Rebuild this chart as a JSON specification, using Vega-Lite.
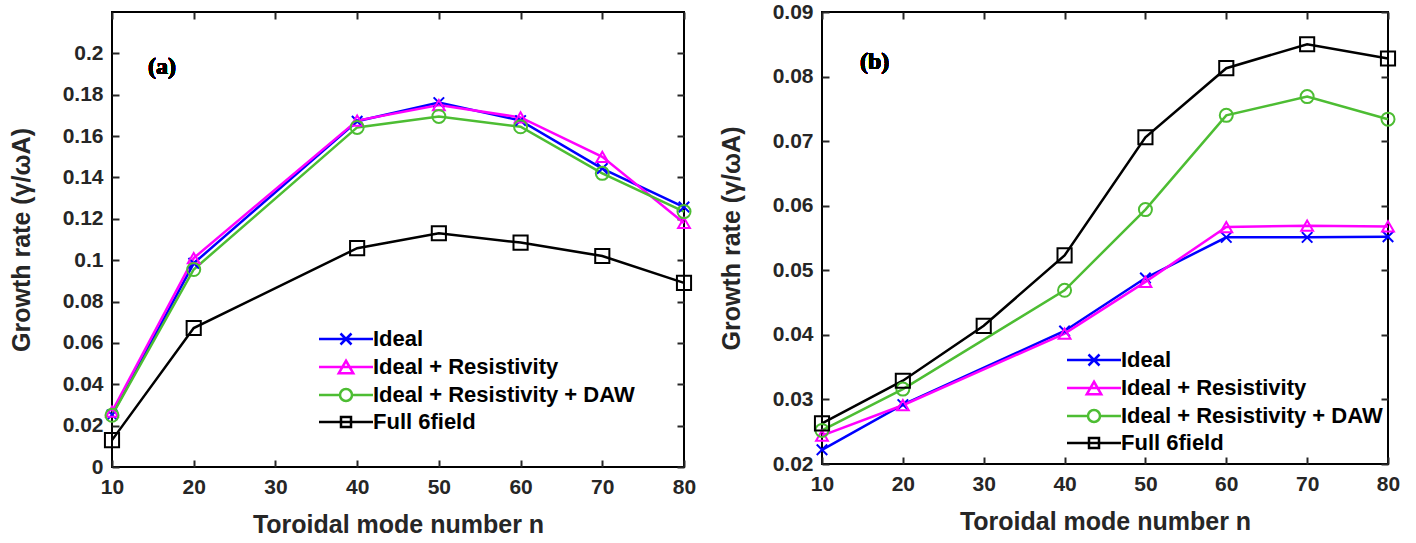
{
  "$schema": "https://vega.github.io/schema/vega-lite/v6.json",
  "padding": {"left": 8, "top": 0, "right": 5, "bottom": 2},
  "background": "white",
  "config": {
    "view": {"stroke": "#000000", "strokeWidth": 2},
    "font": "Liberation Sans",
    "axis": {
      "grid": false,
      "domain": false,
      "labelFlush": false,
      "labelOverlap": false,
      "tickSize": -7,
      "tickWidth": 2,
      "tickColor": "#262626",
      "labelFont": "Liberation Sans",
      "labelFontWeight": "bold",
      "labelFontSize": 21,
      "labelColor": "#262626",
      "labelPadding": 16,
      "titleFont": "Liberation Sans",
      "titleFontWeight": "bold",
      "titleFontSize": 25,
      "titleColor": "#262626"
    },
    "legend": {
      "labelFont": "Liberation Sans",
      "labelFontWeight": "bold",
      "labelFontSize": 22,
      "labelColor": "#000000",
      "labelLimit": 500,
      "symbolSize": 100,
      "symbolStrokeWidth": 2.5,
      "labelOffset": 16,
      "rowPadding": 5,
      "padding": 0
    }
  },
  "datasets": {
    "growth": [
      {"panel": "a", "series": "Ideal", "n": 10, "value": 0.0252},
      {"panel": "a", "series": "Ideal", "n": 20, "value": 0.0985},
      {"panel": "a", "series": "Ideal", "n": 40, "value": 0.1672},
      {"panel": "a", "series": "Ideal", "n": 50, "value": 0.1762},
      {"panel": "a", "series": "Ideal", "n": 60, "value": 0.1675},
      {"panel": "a", "series": "Ideal", "n": 70, "value": 0.1443},
      {"panel": "a", "series": "Ideal", "n": 80, "value": 0.1257},
      {"panel": "a", "series": "Ideal + Resistivity", "n": 10, "value": 0.0268},
      {"panel": "a", "series": "Ideal + Resistivity", "n": 20, "value": 0.1010},
      {"panel": "a", "series": "Ideal + Resistivity", "n": 40, "value": 0.1675},
      {"panel": "a", "series": "Ideal + Resistivity", "n": 50, "value": 0.1750},
      {"panel": "a", "series": "Ideal + Resistivity", "n": 60, "value": 0.1690},
      {"panel": "a", "series": "Ideal + Resistivity", "n": 70, "value": 0.1500},
      {"panel": "a", "series": "Ideal + Resistivity", "n": 80, "value": 0.1180},
      {"panel": "a", "series": "Ideal + Resistivity + DAW", "n": 10, "value": 0.0250},
      {"panel": "a", "series": "Ideal + Resistivity + DAW", "n": 20, "value": 0.0955},
      {"panel": "a", "series": "Ideal + Resistivity + DAW", "n": 40, "value": 0.1642},
      {"panel": "a", "series": "Ideal + Resistivity + DAW", "n": 50, "value": 0.1695},
      {"panel": "a", "series": "Ideal + Resistivity + DAW", "n": 60, "value": 0.1645},
      {"panel": "a", "series": "Ideal + Resistivity + DAW", "n": 70, "value": 0.1420},
      {"panel": "a", "series": "Ideal + Resistivity + DAW", "n": 80, "value": 0.1235},
      {"panel": "a", "series": "Full 6field", "n": 10, "value": 0.0130},
      {"panel": "a", "series": "Full 6field", "n": 20, "value": 0.0672},
      {"panel": "a", "series": "Full 6field", "n": 40, "value": 0.1058},
      {"panel": "a", "series": "Full 6field", "n": 50, "value": 0.1130},
      {"panel": "a", "series": "Full 6field", "n": 60, "value": 0.1085},
      {"panel": "a", "series": "Full 6field", "n": 70, "value": 0.1020},
      {"panel": "a", "series": "Full 6field", "n": 80, "value": 0.0890},
      {"panel": "b", "series": "Ideal", "n": 10, "value": 0.0222},
      {"panel": "b", "series": "Ideal", "n": 20, "value": 0.0292},
      {"panel": "b", "series": "Ideal", "n": 40, "value": 0.0406},
      {"panel": "b", "series": "Ideal", "n": 50, "value": 0.0488},
      {"panel": "b", "series": "Ideal", "n": 60, "value": 0.0551},
      {"panel": "b", "series": "Ideal", "n": 70, "value": 0.0551},
      {"panel": "b", "series": "Ideal", "n": 80, "value": 0.0552},
      {"panel": "b", "series": "Ideal + Resistivity", "n": 10, "value": 0.0244},
      {"panel": "b", "series": "Ideal + Resistivity", "n": 20, "value": 0.0291},
      {"panel": "b", "series": "Ideal + Resistivity", "n": 40, "value": 0.0402},
      {"panel": "b", "series": "Ideal + Resistivity", "n": 50, "value": 0.0482},
      {"panel": "b", "series": "Ideal + Resistivity", "n": 60, "value": 0.0567},
      {"panel": "b", "series": "Ideal + Resistivity", "n": 70, "value": 0.0569},
      {"panel": "b", "series": "Ideal + Resistivity", "n": 80, "value": 0.0568},
      {"panel": "b", "series": "Ideal + Resistivity + DAW", "n": 10, "value": 0.0252},
      {"panel": "b", "series": "Ideal + Resistivity + DAW", "n": 20, "value": 0.0316},
      {"panel": "b", "series": "Ideal + Resistivity + DAW", "n": 40, "value": 0.0469},
      {"panel": "b", "series": "Ideal + Resistivity + DAW", "n": 50, "value": 0.0594},
      {"panel": "b", "series": "Ideal + Resistivity + DAW", "n": 60, "value": 0.0740},
      {"panel": "b", "series": "Ideal + Resistivity + DAW", "n": 70, "value": 0.0769},
      {"panel": "b", "series": "Ideal + Resistivity + DAW", "n": 80, "value": 0.0734},
      {"panel": "b", "series": "Full 6field", "n": 10, "value": 0.0263},
      {"panel": "b", "series": "Full 6field", "n": 20, "value": 0.0329},
      {"panel": "b", "series": "Full 6field", "n": 30, "value": 0.0414},
      {"panel": "b", "series": "Full 6field", "n": 40, "value": 0.0523},
      {"panel": "b", "series": "Full 6field", "n": 50, "value": 0.0706},
      {"panel": "b", "series": "Full 6field", "n": 60, "value": 0.0813},
      {"panel": "b", "series": "Full 6field", "n": 70, "value": 0.0850},
      {"panel": "b", "series": "Full 6field", "n": 80, "value": 0.0828}
    ]
  },
  "resolve": {"legend": {"color": "independent"}},
  "spacing": 21,
  "hconcat": [
    {
      "width": 572,
      "height": 455,
      "data": {"name": "growth"},
      "transform": [{"filter": "datum.panel === 'a'"}],
      "resolve": {"axis": {"x": "independent", "y": "independent"}},
      "layer": [
        {
          "mark": {"type": "line", "strokeWidth": 2.5},
          "encoding": {
            "x": {"field": "n", "type": "quantitative", "scale": {"domain": [10, 80], "nice": false, "zero": false},
                  "axis": {"values": [10, 20, 30, 40, 50, 60, 70, 80], "title": "Toroidal mode number n", "titlePadding": 15}},
            "y": {"field": "value", "type": "quantitative", "scale": {"domain": [0, 0.22], "nice": false},
                  "axis": {"values": [0, 0.02, 0.04, 0.06, 0.08, 0.1, 0.12, 0.14, 0.16, 0.18, 0.2], "format": ".2~f", "title": "Growth rate (γ/ωA)", "titlePadding": 28}},
            "color": {"field": "series", "type": "nominal",
                      "scale": {"domain": ["Ideal", "Ideal + Resistivity", "Ideal + Resistivity + DAW", "Full 6field"], "range": ["#0000FF", "#FF00FF", "#4DBD33", "#000000"]},
                      "legend": {"orient": "none", "legendX": 223, "legendY": 316, "title": null, "symbolType": "stroke",
                                 "encode": {"symbols": {"update": {
                                   "shape": {"signal": "datum.value === 'Ideal' ? 'M-5.4,0L5.4,0M-1.1,-1.1L1.1,1.1M1.1,-1.1L-1.1,1.1' : datum.value === 'Ideal + Resistivity' ? 'M-5.4,0L5.4,0M0,-1.25L1.45,1.25L-1.45,1.25Z' : datum.value === 'Ideal + Resistivity + DAW' ? 'M-5.4,0L-1.2,0M1.2,0L5.4,0M-1.2,0A1.2,1.2,0,1,1,1.2,0A1.2,1.2,0,1,1,-1.2,0' : 'M-5.4,0L5.4,0M-1,-1L1,-1L1,1L-1,1Z'"},
                                   "fill": {"value": "transparent"},
                                   "strokeWidth": {"value": 2.5}}}}}},
            "order": {"field": "n", "type": "quantitative"}
          }
        },
        {
          "mark": {"type": "point", "filled": false, "strokeWidth": 2, "opacity": 1},
          "encoding": {
            "x": {"field": "n", "type": "quantitative", "axis": null},
            "y": {"field": "value", "type": "quantitative", "axis": null},
            "stroke": {"field": "series", "type": "nominal", "legend": null,
                       "scale": {"domain": ["Ideal", "Ideal + Resistivity", "Ideal + Resistivity + DAW", "Full 6field"], "range": ["#0000FF", "#FF00FF", "#4DBD33", "#000000"]}},
            "shape": {"field": "series", "type": "nominal", "legend": null,
                      "scale": {"domain": ["Ideal", "Ideal + Resistivity", "Ideal + Resistivity + DAW", "Full 6field"], "range": ["M-1,-1L1,1M1,-1L-1,1", "triangle-up", "circle", "square"]}},
            "size": {"field": "series", "type": "nominal", "legend": null,
                     "scale": {"domain": ["Ideal", "Ideal + Resistivity", "Ideal + Resistivity + DAW", "Full 6field"], "range": [110, 200, 130, 90]}}
          }
        },
        {
          "mark": {"type": "text", "text": "(a)", "font": "Liberation Serif", "fontWeight": "bold", "fontSize": 24, "align": "left", "baseline": "alphabetic", "fill": "#000000", "strokeWidth": 0},
          "encoding": {
            "x": {"datum": 14.4, "type": "quantitative", "axis": null},
            "y": {"datum": 0.19, "type": "quantitative", "axis": null}
          }
        },
        {
          "mark": {"type": "point", "opacity": 0},
          "encoding": {
            "x": {"field": "n", "type": "quantitative", "axis": {"orient": "top", "values": [10, 20, 30, 40, 50, 60, 70, 80], "labels": false, "title": null}},
            "y": {"field": "value", "type": "quantitative", "axis": {"orient": "right", "values": [0, 0.02, 0.04, 0.06, 0.08, 0.1, 0.12, 0.14, 0.16, 0.18, 0.2], "labels": false, "title": null}}
          }
        }
      ]
    },
    {
      "width": 566,
      "height": 452,
      "data": {"name": "growth"},
      "transform": [{"filter": "datum.panel === 'b'"}],
      "resolve": {"axis": {"x": "independent", "y": "independent"}},
      "layer": [
        {
          "mark": {"type": "line", "strokeWidth": 2.5},
          "encoding": {
            "x": {"field": "n", "type": "quantitative", "scale": {"domain": [10, 80], "nice": false, "zero": false},
                  "axis": {"values": [10, 20, 30, 40, 50, 60, 70, 80], "title": "Toroidal mode number n", "titlePadding": 15}},
            "y": {"field": "value", "type": "quantitative", "scale": {"domain": [0.02, 0.09], "nice": false, "zero": false},
                  "axis": {"values": [0.02, 0.03, 0.04, 0.05, 0.06, 0.07, 0.08, 0.09], "format": ".2~f", "title": "Growth rate (γ/ωA)", "titlePadding": 28}},
            "color": {"field": "series", "type": "nominal",
                      "scale": {"domain": ["Ideal", "Ideal + Resistivity", "Ideal + Resistivity + DAW", "Full 6field"], "range": ["#0000FF", "#FF00FF", "#4DBD33", "#000000"]},
                      "legend": {"orient": "none", "legendX": 261, "legendY": 337, "title": null, "symbolType": "stroke",
                                 "encode": {"symbols": {"update": {
                                   "shape": {"signal": "datum.value === 'Ideal' ? 'M-5.4,0L5.4,0M-1.1,-1.1L1.1,1.1M1.1,-1.1L-1.1,1.1' : datum.value === 'Ideal + Resistivity' ? 'M-5.4,0L5.4,0M0,-1.25L1.45,1.25L-1.45,1.25Z' : datum.value === 'Ideal + Resistivity + DAW' ? 'M-5.4,0L-1.2,0M1.2,0L5.4,0M-1.2,0A1.2,1.2,0,1,1,1.2,0A1.2,1.2,0,1,1,-1.2,0' : 'M-5.4,0L5.4,0M-1,-1L1,-1L1,1L-1,1Z'"},
                                   "fill": {"value": "transparent"},
                                   "strokeWidth": {"value": 2.5}}}}}},
            "order": {"field": "n", "type": "quantitative"}
          }
        },
        {
          "mark": {"type": "point", "filled": false, "strokeWidth": 2, "opacity": 1},
          "encoding": {
            "x": {"field": "n", "type": "quantitative", "axis": null},
            "y": {"field": "value", "type": "quantitative", "axis": null},
            "stroke": {"field": "series", "type": "nominal", "legend": null,
                       "scale": {"domain": ["Ideal", "Ideal + Resistivity", "Ideal + Resistivity + DAW", "Full 6field"], "range": ["#0000FF", "#FF00FF", "#4DBD33", "#000000"]}},
            "shape": {"field": "series", "type": "nominal", "legend": null,
                      "scale": {"domain": ["Ideal", "Ideal + Resistivity", "Ideal + Resistivity + DAW", "Full 6field"], "range": ["M-1,-1L1,1M1,-1L-1,1", "triangle-up", "circle", "square"]}},
            "size": {"field": "series", "type": "nominal", "legend": null,
                     "scale": {"domain": ["Ideal", "Ideal + Resistivity", "Ideal + Resistivity + DAW", "Full 6field"], "range": [110, 200, 130, 90]}}
          }
        },
        {
          "mark": {"type": "text", "text": "(b)", "font": "Liberation Serif", "fontWeight": "bold", "fontSize": 24, "align": "left", "baseline": "alphabetic", "fill": "#000000", "strokeWidth": 0},
          "encoding": {
            "x": {"datum": 14.7, "type": "quantitative", "axis": null},
            "y": {"datum": 0.0812, "type": "quantitative", "axis": null}
          }
        },
        {
          "mark": {"type": "point", "opacity": 0},
          "encoding": {
            "x": {"field": "n", "type": "quantitative", "axis": {"orient": "top", "values": [10, 20, 30, 40, 50, 60, 70, 80], "labels": false, "title": null}},
            "y": {"field": "value", "type": "quantitative", "axis": {"orient": "right", "values": [0.02, 0.03, 0.04, 0.05, 0.06, 0.07, 0.08, 0.09], "labels": false, "title": null}}
          }
        }
      ]
    }
  ]
}
